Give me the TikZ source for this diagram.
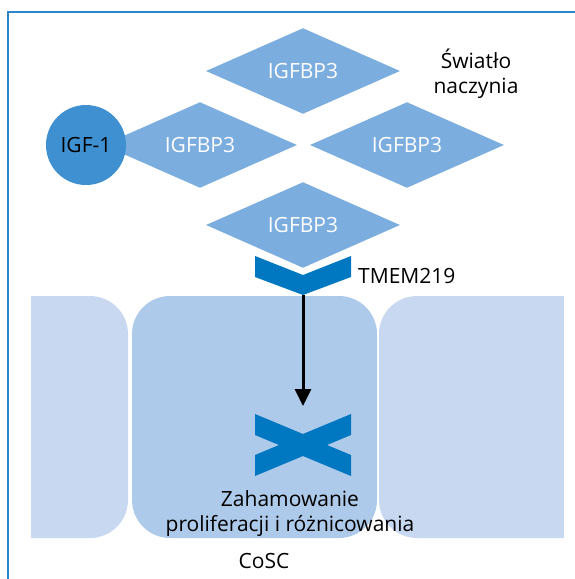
\documentclass[tikz,border=0pt]{standalone}
\usepackage{fontspec}
\setmainfont{Open Sans}
\usetikzlibrary{shapes.geometric,positioning,arrows.meta}

\definecolor{bpblue}{HTML}{7BADDE}
\definecolor{igfblue}{HTML}{3F90D1}
\definecolor{rcpblue}{HTML}{0077C1}
\definecolor{midcell}{HTML}{AECAEA}
\definecolor{sidecell}{HTML}{C8D8F0}
\definecolor{framecol}{HTML}{2A86C8}

\begin{document}
\begin{tikzpicture}[x=1pt,y=-1pt,>={Triangle[length=17pt,width=16pt]},on grid,
  bp node/.style={diamond,fill=bpblue,text=white,minimum width=194pt,minimum height=82pt,inner sep=0pt,font=\fontsize{21}{25}\selectfont},
  igf node/.style={circle,fill=igfblue,minimum size=80pt,inner sep=0pt,font=\fontsize{21}{25}\selectfont},
  lbl/.style={font=\fontsize{21}{25}\selectfont,inner sep=0pt}]

            \useasboundingbox (0,0) rectangle (575,579);
            \draw[framecol,line width=2pt] (8,579) -- (8,12) -- (575,12);

            % cells
            \begin{scope}
                \clip (31,290) rectangle (128,545);
                \fill[sidecell,rounded corners=38pt] (-20,296) rectangle (128,538);
            \end{scope}
            \begin{scope}
                \clip (379,290) rectangle (564,545);
                \fill[sidecell,rounded corners=38pt] (379,296) rectangle (620,538);
            \end{scope}
            \fill[midcell,rounded corners=38pt] (132,296) rectangle (377,538);

            % IGFBP3 + IGF-1
            \node[bp node] (bp1) at (303,71) {IGFBP3};
            \node[bp node] (bp2) [below left=74pt and 103pt of bp1] {IGFBP3};
            \node[bp node] (bp3) [below right=74pt and 104pt of bp1] {IGFBP3};
            \node[bp node] (bp4) [below=154pt of bp1] {IGFBP3};
            \node[igf node] (igf) [left=114pt of bp2] {IGF-1};

            \node[lbl,align=center] (lumen) at (476,74) {Światło\\naczynia};

            % TMEM219
            \fill[rcpblue] (255,256) -- (303,275) -- (351,256) -- (351,277) -- (303,295) -- (255,277) -- cycle;
            \coordinate (rcp) at (303,295);
            \node[lbl,anchor=base west] (tmem) at (358,283) {TMEM219};

            % block
            \fill[rcpblue] (255,414) -- (303,434) -- (351,414) -- (351,435) -- (327,445) -- (351,455)
                -- (351,476) -- (303,456) -- (255,476) -- (255,455) -- (279,445) -- (255,435) -- cycle;
            \coordinate (blk) at (303,406);

            \draw[->,line width=3pt] (rcp) to (blk);

            \node[lbl,align=center] (inh) at (290,514) {Zahamowanie\\proliferacji i różnicowania};
            \node[lbl] (cosc) at (264,561) {CoSC};

            ;
        \end{tikzpicture}
\end{document}
